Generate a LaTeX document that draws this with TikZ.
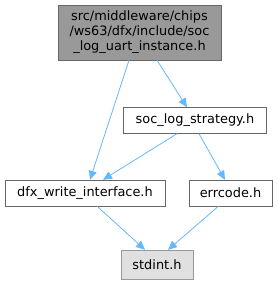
\documentclass[tikz,border=0pt]{standalone}
\usepackage{fontspec}
\setmainfont{DejaVu Sans}
\usepackage{tikz}
\usetikzlibrary{arrows.meta,positioning,calc}
\definecolor{EdgeBlue}{HTML}{63B8FF}
\definecolor{BoxGray}{HTML}{666666}
\definecolor{TopFill}{HTML}{999999}
\definecolor{SysFill}{HTML}{E0E0E0}
\definecolor{SysLine}{HTML}{999999}

\begin{document}
\begin{tikzpicture}[
  x=1pt,y=-1pt,
  every node/.style={font=\fontsize{12.9}{15}\selectfont,align=center,inner sep=0pt},
  file/.style={draw=BoxGray,fill=white,minimum height=26pt},
  top/.style={draw=BoxGray,fill=TopFill,minimum width=163pt,minimum height=55pt},
  sys/.style={draw=SysLine,fill=SysFill,minimum width=72pt,minimum height=29pt},
  arr/.style={-{Triangle[length=9pt,width=8pt]},color=EdgeBlue,line width=0.8pt}
]
\useasboundingbox (0,0) rectangle (277,285);
\node[top] (a) at (139.5,32.5) {src/middleware/chips\\/ws63/dfx/include/soc\\\_log\_uart\_instance.h};
\node[file,minimum width=143pt] (b) at (195,120.5) {soc\_log\_strategy.h};
\node[file,minimum width=160pt] (c) at (85,193) {dfx\_write\_interface.h};
\node[file,minimum width=83pt] (d) at (230.5,193) {errcode.h};
\node[sys] (e) at (157,264.5) {stdint.h};
\draw[arr] ([xshift=-10.5pt]a.south)--([xshift=5pt]c.north);
\draw[arr] ([xshift=17.5pt]a.south)--([xshift=-8pt]b.north);
\draw[arr] ([xshift=-18pt]b.south)--([xshift=18pt]c.north);
\draw[arr] ([xshift=4pt]b.south)--([xshift=-5.5pt]d.north);
\draw[arr] ([xshift=12pt]c.south)--([xshift=-12pt]e.north);
\draw[arr] ([xshift=-12pt]d.south)--([xshift=11pt]e.north);
\end{tikzpicture}
\end{document}
